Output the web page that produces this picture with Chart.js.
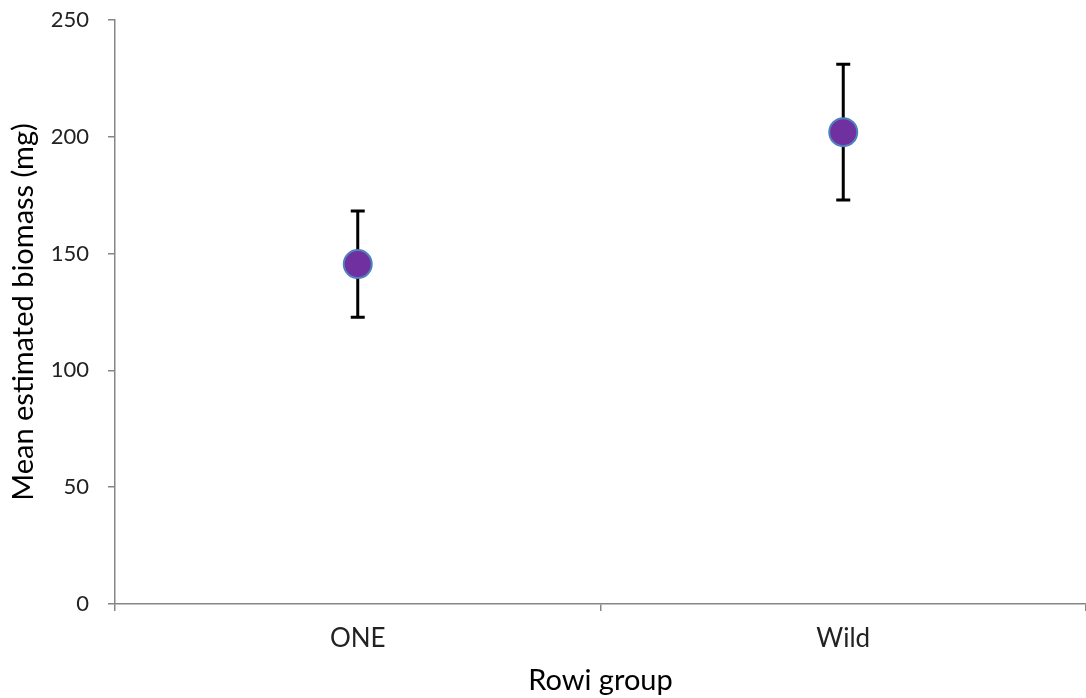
<!DOCTYPE html>
<html>
<head>
<meta charset="utf-8">
<script src="https://cdn.jsdelivr.net/npm/chart.js@4.4.1/dist/chart.umd.min.js"></script>
<style>
  html, body { margin: 0; padding: 0; background: #fff; overflow: hidden; }
  #wrap { width: 1086px; height: 698px; }
</style>
</head>
<body>
<div id="wrap"><canvas id="chart"></canvas></div>
<script>
// valores
const groups = ['ONE', 'Wild'];
const means = [145.5, 202];
const errors = [22.7, 29.1];
const yTicks = [0, 50, 100, 150, 200, 250];

const FONT = 'Lato, "Open Sans", sans-serif';

// barras de error dibujadas con las escalas del grafico
const errorBars = {
    id: 'errorBars',
    beforeDatasetsDraw(chart) {
        const { ctx, scales: { x, y } } = chart;
        ctx.save();
        ctx.strokeStyle = '#000';
        ctx.lineWidth = 3;
        means.forEach((m, i) => {
            const px = x.getPixelForValue(i);
            const top = y.getPixelForValue(m + errors[i]);
            const bot = y.getPixelForValue(m - errors[i]);
            ctx.beginPath();
            ctx.moveTo(px, top);
            ctx.lineTo(px, bot);
            ctx.moveTo(px - 7, top);
            ctx.lineTo(px + 7, top);
            ctx.moveTo(px - 7, bot);
            ctx.lineTo(px + 7, bot);
            ctx.stroke();
        });
        ctx.restore();
    }
};

new Chart(document.getElementById('chart'), {
    type: 'line',
    plugins: [errorBars],
    data: {
        labels: groups,
        datasets: [{
            data: means,
            showLine: false,
            pointRadius: 14,
            pointHoverRadius: 14,
            pointBackgroundColor: '#7030A0',
            pointBorderColor: '#4F81BD',
            pointBorderWidth: 2
        }]
    },
    options: {
        responsive: true,
        maintainAspectRatio: false,
        animation: false,
        layout: { autoPadding: false, padding: { top: 20, right: 0, left: 0, bottom: 0 } },
        plugins: { legend: { display: false }, tooltip: { enabled: false } },
        scales: {
            x: {
                type: 'category',
                offset: true,
                afterFit: s => { s.height = 94; },
                grid: {
                    offset: true,
                    drawOnChartArea: false,
                    drawTicks: true,
                    tickLength: 7,
                    color: '#868686',
                    lineWidth: 1.5
                },
                border: { color: '#868686', width: 1.5 },
                ticks: {
                    color: '#222',
                    padding: 12,
                    font: { family: FONT, size: 26 }
                },
                title: {
                    display: true,
                    text: 'Rowi group',
                    color: '#000',
                    padding: { top: 0, bottom: 0 },
                    font: { family: FONT, size: 29 }
                }
            },
            y: {
                min: 0,
                max: 250,
                afterFit: s => { s.width = 115; s.paddingTop = 0; s.paddingBottom = 0; },
                afterBuildTicks: s => { s.ticks = yTicks.map(v => ({ value: v })); },
                grid: {
                    drawOnChartArea: false,
                    drawTicks: true,
                    tickLength: 7,
                    color: '#868686',
                    lineWidth: 1.5
                },
                border: { color: '#868686', width: 1.5 },
                ticks: {
                    color: '#222',
                    padding: 19,
                    font: { family: FONT, size: 22 }
                },
                title: {
                    display: true,
                    text: 'Mean estimated biomass (mg)',
                    color: '#000',
                    padding: { top: 6, bottom: 0 },
                    font: { family: FONT, size: 29 }
                }
            }
        }
    }
});
</script>
</body>
</html>
